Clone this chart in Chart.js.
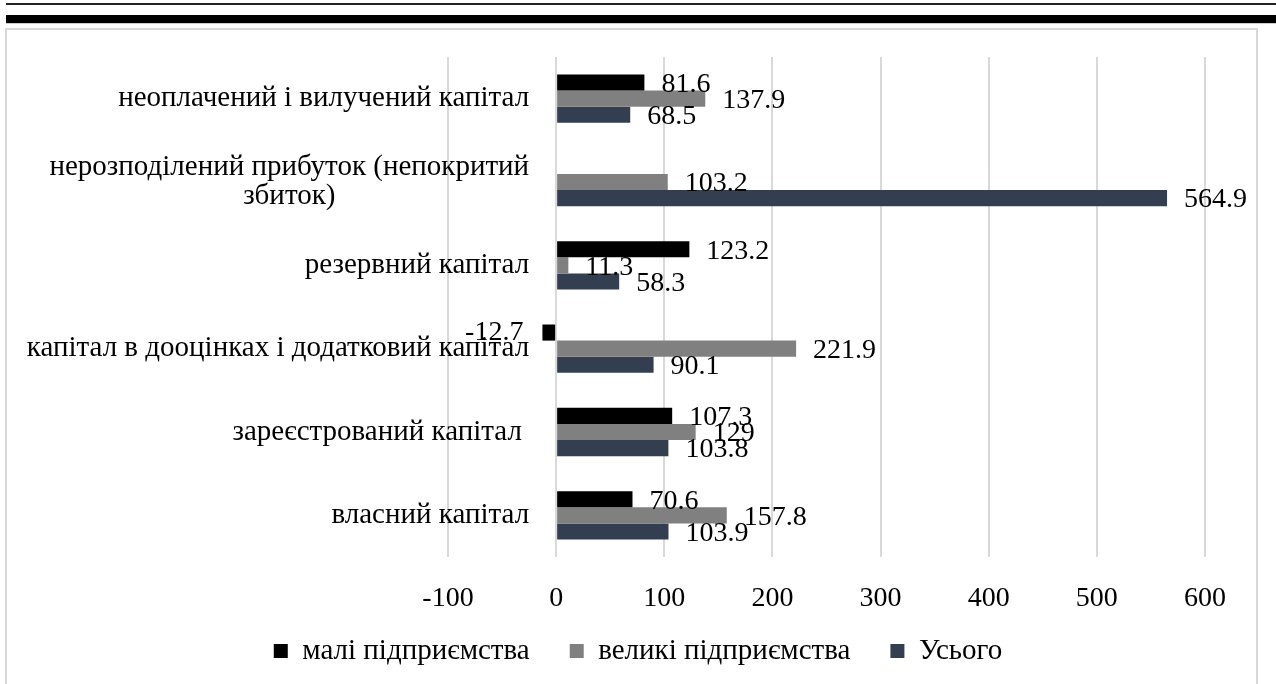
<!DOCTYPE html>
<html>
<head>
<meta charset="utf-8">
<script src="https://cdn.jsdelivr.net/npm/chart.js@4.4.1/dist/chart.umd.min.js"></script>
<style>
    body { margin: 0; background: #fff; width: 1276px; height: 684px; overflow: hidden; position: relative; }
    .rule-thin { position: absolute; left: 6px; right: 0; top: 3px; height: 2px; background: #222; }
    .rule-thick { position: absolute; left: 6px; right: 0; top: 15px; height: 8px; background: #000; border-bottom: 1px solid #ccc; }
    .frame { position: absolute; left: 5px; top: 28px; width: 1249px; height: 700px; border: 2px solid #d9d9d9; }
    #barChart { position: absolute; left: 0; top: 0; }
</style>
</head>
<body>
<div class="rule-thin"></div>
<div class="rule-thick"></div>
<div class="frame"></div>
<canvas id="barChart" width="1276" height="684"></canvas>
<script>
// categories, top to bottom
const categories = [
    'неоплачений і вилучений капітал',
    ['нерозподілений прибуток (непокритий', 'збиток)'],
    'резервний капітал',
    'капітал в дооцінках і додатковий капітал',
    'зареєстрований капітал ',
    'власний капітал'
];
const smallFirms = [81.6, null, 123.2, -12.7, 107.3, 70.6];
const largeFirms = [137.9, 103.2, 11.3, 221.9, 129, 157.8];
const totalFirms = [68.5, 564.9, 58.3, 90.1, 103.8, 103.9];
const xTicks = [-100, 0, 100, 200, 300, 400, 500, 600];

const colors = {
    black: '#000000',
    gray: '#808080',
    navy: '#333f50',
    grid: '#d9d9d9'
};
const FONT = 'Liberation Serif, Times New Roman, serif';
const TEXT_SIZE = 29; // category labels, legend
const NUM_SIZE = 28;  // value labels, x ticks

// value labels at the bar ends
const valueLabels = {
    id: 'valueLabels',
    afterDatasetsDraw(chart) {
        const ctx = chart.ctx;
        ctx.save();
        ctx.font = NUM_SIZE + 'px ' + FONT;
        ctx.fillStyle = '#000';
        ctx.textBaseline = 'middle';
        chart.data.datasets.forEach((ds, i) => {
            chart.getDatasetMeta(i).data.forEach((bar, j) => {
                const v = ds.data[j];
                if (v === null) return;
                if (v >= 0) {
                    ctx.textAlign = 'left';
                    ctx.fillText(String(v), bar.x + 17, bar.y + 2);
                } else {
                    ctx.textAlign = 'right';
                    ctx.fillText(String(v), bar.x - 19, bar.y);
                }
            });
        });
        ctx.restore();
    }
};

// category labels sit left of the zero line, like Excel; x tick labels under the plot
const axisLabels = {
    id: 'axisLabels',
    beforeDatasetsDraw(chart) {
        const ctx = chart.ctx;
        const xs = chart.scales.x, ys = chart.scales.y;
        const right = xs.getPixelForValue(0) - 27;
        ctx.save();
        ctx.font = TEXT_SIZE + 'px ' + FONT;
        ctx.fillStyle = '#000';
        ctx.textBaseline = 'middle';
        ctx.textAlign = 'center';
        categories.forEach((c, i) => {
            const lines = Array.isArray(c) ? c : [c];
            const w = Math.max(...lines.map(l => ctx.measureText(l).width));
            const y = ys.getPixelForValue(i);
            lines.forEach((l, k) => {
                ctx.fillText(l, right - w / 2, y + (k - (lines.length - 1) / 2) * 29);
            });
        });
        ctx.font = NUM_SIZE + 'px ' + FONT;
        xTicks.forEach(v => {
            ctx.fillText(String(v), xs.getPixelForValue(v), chart.chartArea.bottom + 42);
        });
        ctx.restore();
    }
};

const barCtx = document.getElementById('barChart').getContext('2d');
const barChart = new Chart(barCtx, {
    type: 'bar',
    data: {
        labels: categories,
        datasets: [
            { label: 'малі підприємства', data: smallFirms, backgroundColor: colors.black, borderWidth: 0 },
            { label: 'великі підприємства', data: largeFirms, backgroundColor: colors.gray, borderWidth: 0 },
            { label: 'Усього', data: totalFirms, backgroundColor: colors.navy, borderWidth: 0 }
        ]
    },
    options: {
        indexAxis: 'y',
        responsive: false,
        animation: false,
        categoryPercentage: 0.58,
        barPercentage: 1,
        layout: { padding: { top: 57, left: 0, right: 0, bottom: 8.5 } },
        scales: {
            x: {
                min: xTicks[0],
                max: xTicks[xTicks.length - 1],
                afterBuildTicks: s => { s.ticks = xTicks.map(v => ({ value: v })); },
                grid: { color: colors.grid, lineWidth: 2, drawTicks: false },
                border: { display: false },
                ticks: { display: false },
                afterFit: s => { s.height = 39.5; }
            },
            y: {
                grid: { display: false },
                border: { display: false },
                ticks: { display: false },
                afterFit: s => { s.width = 448; }
            },
            y2: {
                type: 'category',
                position: 'right',
                grid: { display: false },
                border: { display: false },
                ticks: { display: false },
                afterFit: s => { s.width = 71; }
            }
        },
        plugins: {
            legend: {
                position: 'bottom',
                labels: {
                    boxWidth: 14,
                    boxHeight: 14,
                    padding: 40,
                    color: '#000',
                    font: { family: FONT, size: TEXT_SIZE }
                }
            },
            tooltip: { enabled: false }
        }
    },
    plugins: [axisLabels, valueLabels]
});
</script>
</body>
</html>
